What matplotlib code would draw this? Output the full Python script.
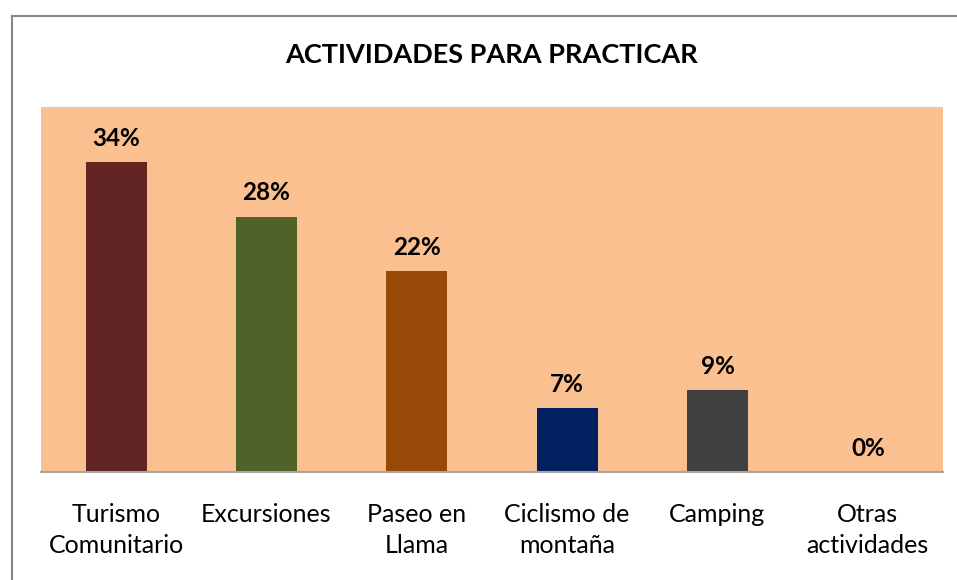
import matplotlib
matplotlib.use("Agg")
import matplotlib.pyplot as plt
from matplotlib.patches import Rectangle

# datos
categorias = ["Turismo\nComunitario", "Excursiones", "Paseo en\nLlama",
              "Ciclismo de\nmontaña", "Camping", "Otras\nactividades"]
valores = [34, 28, 22, 7, 9, 0]
colores = ["#632523", "#4F6228", "#984807", "#002060", "#404040", "#FAC090"]
titulo = "ACTIVIDADES PARA PRACTICAR"

plt.rcParams['font.family'] = ['Lato', 'DejaVu Sans']

fig = plt.figure(figsize=(9.57, 5.80), dpi=100)
fig.patch.set_facecolor("white")

# marco exterior del grafico
marco = Rectangle((11.5 / 957, -0.05), 1.1, 1 - 15.5 / 580 + 0.05,
                  transform=fig.transFigure, fill=False,
                  edgecolor="#868686", linewidth=1.5)
fig.patches.append(marco)

ax = fig.add_axes([41 / 957, 1 - 472 / 580, 902 / 957, 365 / 580])
ax.set_facecolor("#FAC090")

x = range(len(categorias))
ax.bar(x, valores, width=0.405, color=colores, zorder=2)
ax.set_xlim(-0.5, len(categorias) - 0.5)
ax.set_ylim(0, 40)

for i, v in zip(x, valores):
    ax.annotate("{}%".format(v), (i, v), xytext=(0, 17), textcoords="offset points",
                ha="center", va="center", fontsize=17.5, fontweight="bold")

ax.set_xticks(list(x))
ax.set_xticklabels(categorias, fontsize=18, linespacing=1.45)
ax.tick_params(axis="x", length=0, pad=22)
ax.set_yticks([])
for s in ["top", "right", "left"]:
    ax.spines[s].set_visible(False)
ax.spines["bottom"].set_color("#A6A6A6")
ax.spines["bottom"].set_linewidth(1.5)

fig.text(492 / 957, 1 - 55 / 580, titulo, ha="center", va="center",
         fontsize=19.5, fontweight="bold")

fig.savefig("out.png", dpi=100)
